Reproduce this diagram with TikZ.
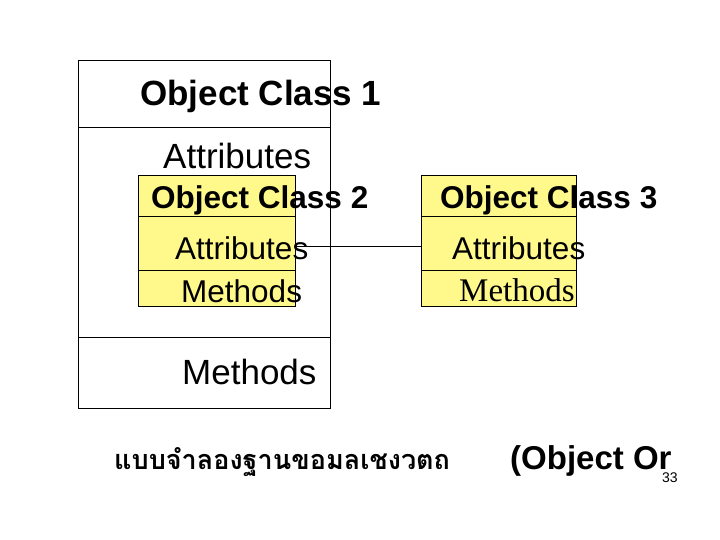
\documentclass[tikz,border=0pt]{standalone}
\usepackage{fontspec}
\setmainfont{Liberation Sans}
\newfontfamily\serifA{Liberation Serif}
\newfontfamily\thaifont[Script=Thai]{Loma}
\begin{document}
\begin{tikzpicture}[x=1pt,y=-1pt,
  box/.style={draw=black,line width=0.8pt},
  ybox/.style={draw=black,line width=0.8pt,fill=yellow!45},
  txt/.style={anchor=west,inner sep=0pt}]
\useasboundingbox (0,0) rectangle (720,540);
\fill[white] (0,0) rectangle (720,540);
% outer class
\draw[box] (78,60) rectangle (330,408);
\draw[box] (78,127) -- (330,127);
\draw[box] (78,337) -- (330,337);
\node[txt,font=\bfseries\fontsize{35}{40}\selectfont] (t1) at (140,96) {Object Class 1};
\node[txt,font=\fontsize{35}{40}\selectfont] (a1) at (163,156) {Attributes};
% class 2
\draw[ybox] (138,175) rectangle (295,306);
\draw[box] (138,216) -- (295,216);
\draw[box] (138,270) -- (295,270);
\coordinate (c2) at (295,246);
% class 3
\draw[ybox] (421,175) rectangle (576,306);
\draw[box] (421,216) -- (576,216);
\draw[box] (421,270) -- (576,270);
\coordinate (c3) at (421,246);
\draw[line width=0.8pt] (c2) -- (c3);
\node[txt,font=\fontsize{35}{40}\selectfont] (m1) at (182,372) {Methods};
\node[txt,font=\bfseries\fontsize{31.5}{36}\selectfont] (t2) at (151,200) {Object Class 2};
\node[txt,font=\fontsize{31.5}{36}\selectfont] (a2) at (175,248) {Attributes};
\node[txt,font=\fontsize{31.5}{36}\selectfont] (m2) at (181,291) {Methods};
\node[txt,font=\bfseries\fontsize{31.5}{36}\selectfont] (t3) at (440,200) {Object Class 3};
\node[txt,font=\fontsize{31.5}{36}\selectfont] (a3) at (452,248) {Attributes};
\node[txt,font=\serifA\fontsize{33}{38}\selectfont] (m3) at (459,290) {Methods};
% bottom
\node[txt,font=\thaifont\bfseries\fontsize{27}{32}\selectfont] (th) at (114,462) {แบบจำลองฐานขอมลเชงวตถ};
\node[txt,font=\bfseries\fontsize{33}{38}\selectfont] (oo) at (510,461) {(Object Or};
\node[txt,font=\fontsize{14}{16}\selectfont] (pg) at (662,478) {33};
\end{tikzpicture}
\end{document}
